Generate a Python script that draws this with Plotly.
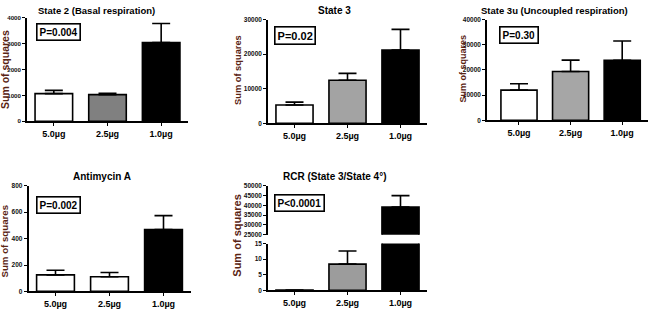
import plotly.graph_objects as go

W, H = 650, 312

categories = ["5.0µg", "2.5µg", "1.0µg"]

state2_mean = [1068, 1030, 3045]
state2_sem = [128, 55, 730]

state3_mean = [5280, 12450, 21230]
state3_sem = [850, 1980, 5940]

state3u_mean = [12000, 19420, 23800]
state3u_sem = [2530, 4500, 7700]

antimycin_mean = [125, 111, 468]
antimycin_sem = [35, 32, 106]

rcr_mean = [0.1, 8.4, 39170]
rcr_sem = [0, 4.2, 5830]

titles = ["State 2 (Basal respiration)", "State 3", "State 3u (Uncoupled respiration)",
          "Antimycin A", "RCR (State 3/State 4°)"]
pvalues = ["P=0.004", "P=0.02", "P=0.30", "P=0.002", "P<0.0001"]

FONT = "Liberation Sans"
YTITLE_COLOR = "#5a2414"

def px_x(p):
    return p / W

def px_y(p):
    return 1 - p / H

fig = go.Figure()

def add_bars(mean, sem, colors, xa, ya):
    fig.add_trace(go.Bar(
        x=categories, y=mean, xaxis=xa, yaxis=ya, width=0.7,
        marker=dict(color=colors, line=dict(color="black", width=1.6)),
        error_y=dict(type="data", symmetric=False, array=sem,
                     arrayminus=[0] * len(sem), color="black",
                     thickness=1.6, width=9),
        showlegend=False, hoverinfo="skip"))

add_bars(state2_mean, state2_sem, ["white", "#808080", "black"], "x", "y")
add_bars(state3_mean, state3_sem, ["white", "#a3a3a3", "black"], "x2", "y2")
add_bars(state3u_mean, state3u_sem, ["white", "#a6a6a6", "black"], "x3", "y3")
add_bars(antimycin_mean, antimycin_sem, ["white", "white", "black"], "x4", "y4")
add_bars(rcr_mean, rcr_sem, ["white", "#9c9c9c", "black"], "x5", "y5")
add_bars(rcr_mean, rcr_sem, ["white", "#9c9c9c", "black"], "x5", "y6")

def xaxis(dom, rng, anchor, fs=9):
    return dict(domain=[px_x(dom[0]), px_x(dom[1])], range=rng, anchor=anchor,
                showline=True, linecolor="black", linewidth=1.6,
                ticks="outside", ticklen=3, tickwidth=1.4, tickcolor="black",
                showgrid=False, zeroline=False, fixedrange=True,
                tickfont=dict(family=FONT, size=fs, color="black", weight="bold"))

def yaxis(dom, rng, dtick, anchor, fs=6.5):
    return dict(domain=[px_y(dom[1]), px_y(dom[0])], range=rng, dtick=dtick, anchor=anchor,
                tickformat="d",
                showline=True, linecolor="black", linewidth=1.6,
                ticks="outside", ticklen=3, tickwidth=1.4, tickcolor="black",
                showgrid=False, zeroline=False, fixedrange=True,
                tickfont=dict(family=FONT, size=fs, color="#111111", weight="bold"))

fig.update_layout(
    xaxis=xaxis((27, 188), [-0.5, 2.5], "y"),
    yaxis=yaxis((14, 120), [0, 4000], 1000, "x", fs=6.2),
    xaxis2=xaxis((268, 427), [-0.5, 2.5], "y2"),
    yaxis2=yaxis((16, 122), [0, 30000], 10000, "x2"),
    xaxis3=xaxis((487, 648), [-0.62, 2.5], "y3"),
    yaxis3=yaxis((16, 119), [0, 40000], 10000, "x3"),
    xaxis4=xaxis((28.5, 190.5), [-0.5, 2.5], "y4"),
    yaxis4=yaxis((186, 294), [0, 800], 200, "x4"),
    xaxis5=xaxis((268, 427), [-0.5, 2.5], "y5"),
    yaxis5=yaxis((245, 293), [0, 15], 5, "x5"),
    yaxis6=yaxis((186, 236), [25000, 50000], 5000, "x5"),
)

annots = []
# titles
title_pos = [(96, 7, 9.5), (335, 7, 10), (554, 7, 9.5), (102, 176, 10), (335, 176, 10)]
for t, (x, y, fs) in zip(titles, title_pos):
    annots.append(dict(text=t, x=px_x(x), y=px_y(y), xref="paper", yref="paper",
                       xanchor="center", yanchor="middle", showarrow=False,
                       font=dict(family=FONT, size=fs, color="black", weight="bold")))
# y titles
ytitle_pos = [(5.5, 67, 10.5), (238.5, 68, 9.3), (463, 66, 9), (5, 243, 9.7), (237, 237, 11)]
for (x, y, fs) in ytitle_pos:
    annots.append(dict(text="Sum of squares", x=px_x(x), y=px_y(y), xref="paper", yref="paper",
                       xanchor="center", yanchor="middle", showarrow=False, textangle=-90,
                       font=dict(family=FONT, size=fs, color=YTITLE_COLOR, weight="bold")))
# P-value boxes
p_pos = [(36, 19, 10), (274, 22, 11), (499, 22, 10), (36, 196, 10), (274, 194, 10)]
for t, (x, y, fs) in zip(pvalues, p_pos):
    annots.append(dict(text=t, x=px_x(x), y=px_y(y), xref="paper", yref="paper",
                       xanchor="left", yanchor="top", showarrow=False,
                       bgcolor="white", bordercolor="black", borderwidth=1.6, borderpad=2,
                       font=dict(family=FONT, size=fs, color="black", weight="bold")))

fig.update_layout(
    annotations=annots,
    width=W, height=H,
    margin=dict(l=0, r=0, t=0, b=0),
    paper_bgcolor="white", plot_bgcolor="white",
    bargap=0.3,
)

fig.write_html("out.html", config={"displayModeBar": False},
               post_script="document.body.style.margin='0';document.body.style.overflow='hidden';")
